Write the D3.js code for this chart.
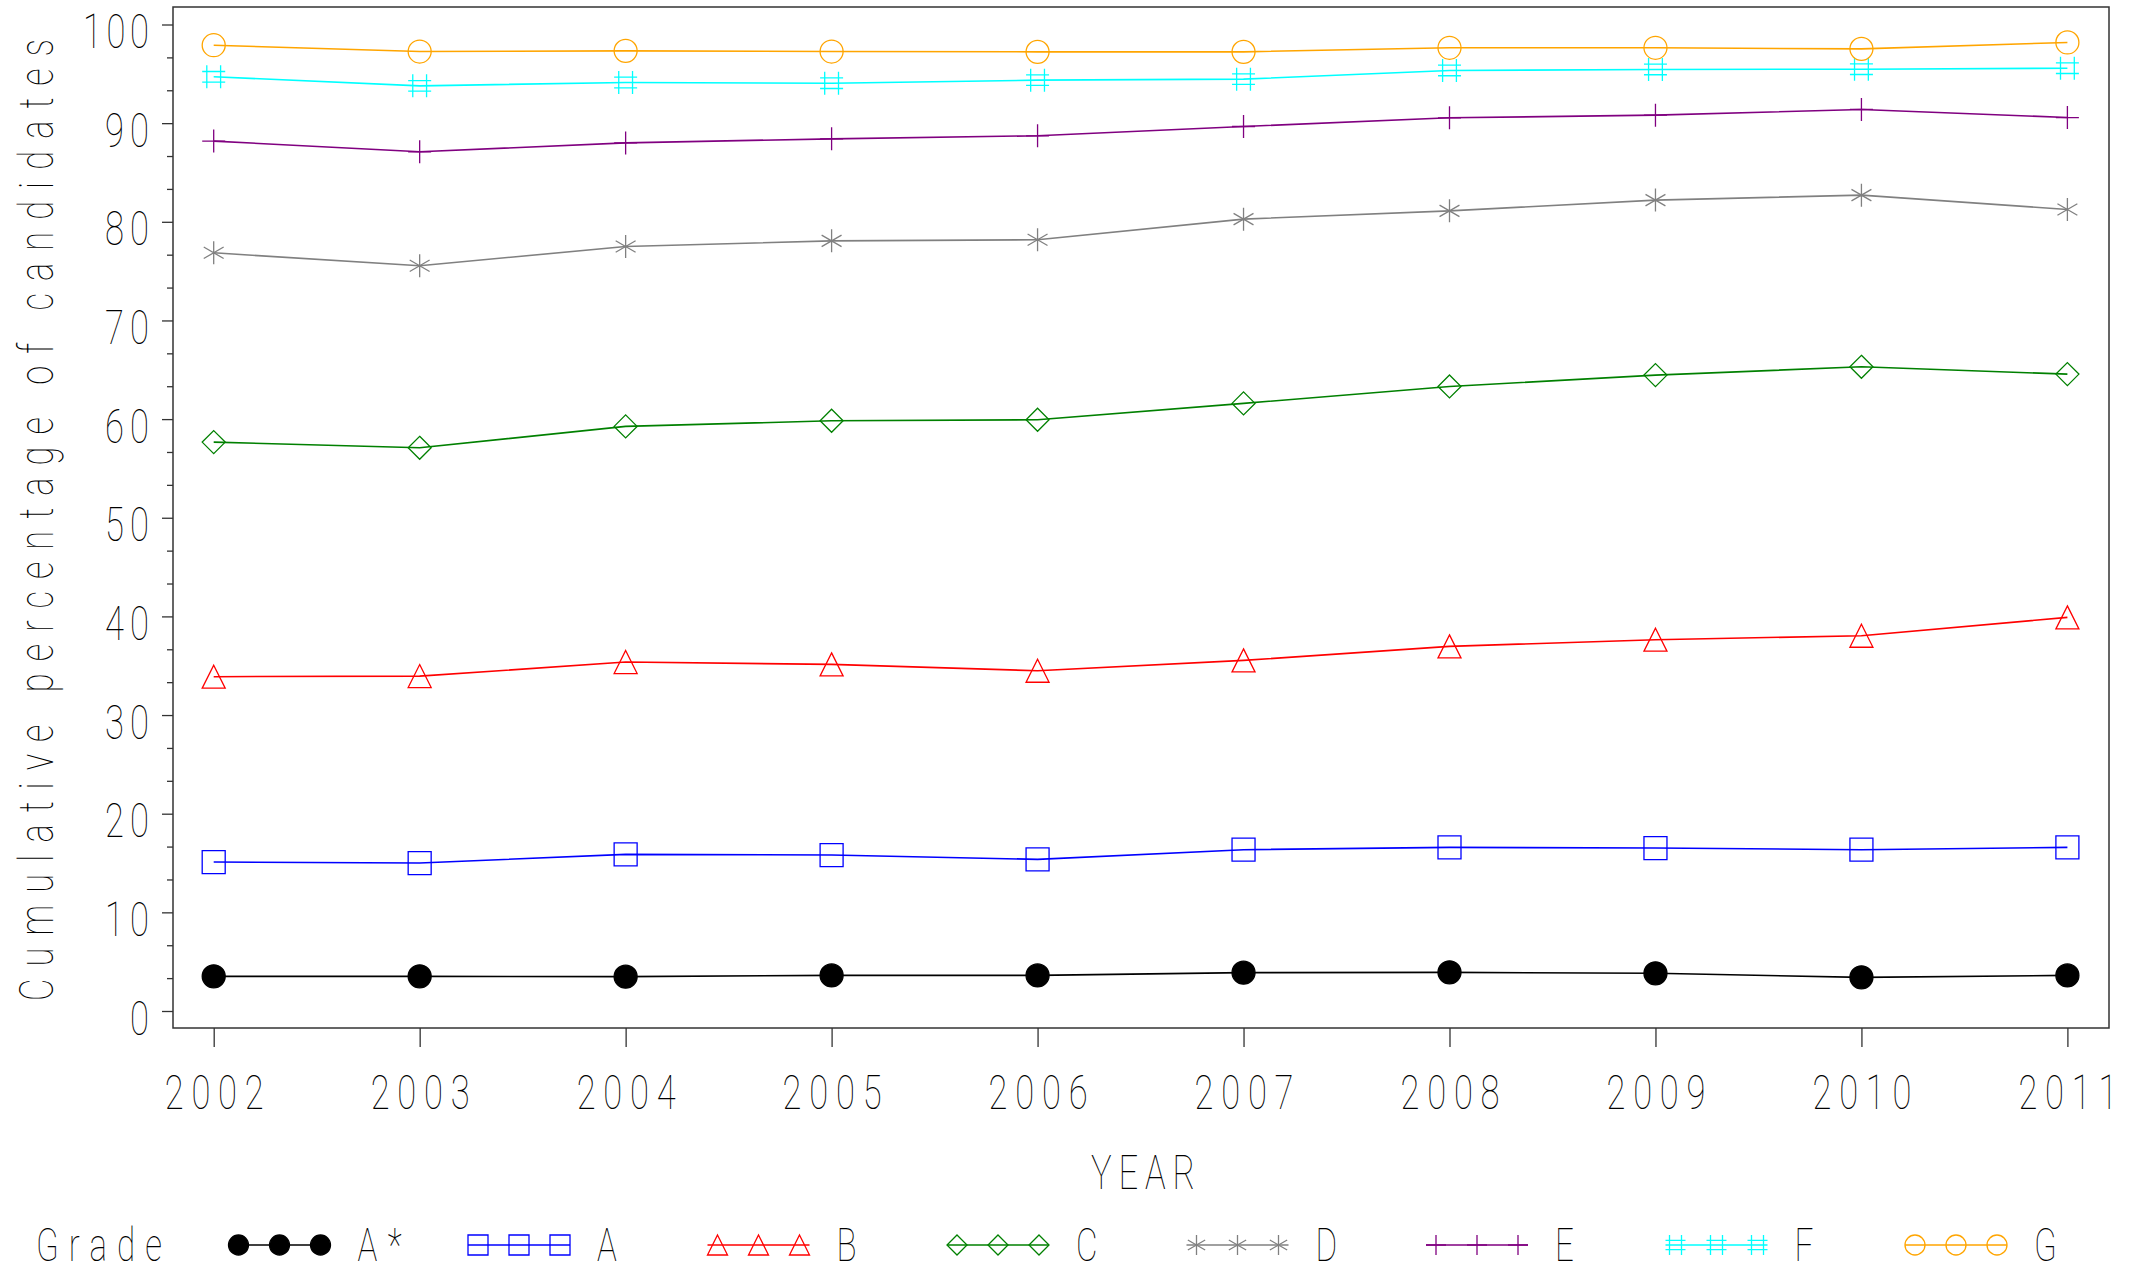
<!DOCTYPE html>
<html>
<head>
<meta charset="utf-8">
<script src="https://cdn.jsdelivr.net/npm/d3@7"></script>
<style>
  html, body { margin: 0; padding: 0; background: #fff; }
  svg { display: block; }
  text { font-family: "Roboto", "DejaVu Sans", sans-serif; font-weight: 100; fill: #000; }
</style>
</head>
<body>
<svg id="chart" width="2134" height="1274"></svg>
<script>
// ---------------- data ----------------
const years = [2002, 2003, 2004, 2005, 2006, 2007, 2008, 2009, 2010, 2011];
const gradeAStar = [3.51, 3.51, 3.48, 3.61, 3.61, 3.89, 3.92, 3.82, 3.41, 3.61];
const gradeA = [15.10, 15.00, 15.88, 15.81, 15.37, 16.35, 16.59, 16.52, 16.35, 16.59];
const gradeB = [33.89, 33.95, 35.37, 35.14, 34.49, 35.54, 36.96, 37.64, 38.04, 39.90];
const gradeC = [57.67, 57.09, 59.26, 59.83, 59.93, 61.59, 63.31, 64.46, 65.30, 64.56];
const gradeD = [76.86, 75.54, 77.50, 78.07, 78.18, 80.27, 81.11, 82.20, 82.70, 81.25];
const gradeE = [88.18, 87.10, 88.00, 88.41, 88.72, 89.66, 90.54, 90.81, 91.39, 90.57];
const gradeF = [94.70, 93.78, 94.12, 94.05, 94.36, 94.46, 95.34, 95.44, 95.47, 95.57];
const gradeG = [97.90, 97.26, 97.33, 97.26, 97.23, 97.23, 97.64, 97.64, 97.53, 98.18];
const gradeLabels = ["A*", "A", "B", "C", "D", "E", "F", "G"];
const yTickValues = [0, 10, 20, 30, 40, 50, 60, 70, 80, 90, 100];
const yAxisTitle = "Cumulative percentage of candidates";
const xAxisTitle = "YEAR";
const legendTitle = "Grade";

// ---------------- styles ----------------
const seriesValues = [gradeAStar, gradeA, gradeB, gradeC, gradeD, gradeE, gradeF, gradeG];
const seriesColors = ["#000000", "#0000ff", "#ff0000", "#008000", "#808080", "#800080", "#00ffff", "#ffa500"];
const seriesSymbols = ["dot", "square", "triangle", "diamond", "star", "plus", "hash", "circle"];

const SX = 0.72;          // horizontal squeeze of the glyphs
const FS = 48;            // font size (cap height ~34px)

const svg = d3.select("#chart");
const frame = { left: 173, right: 2109, top: 7, bottom: 1028 };

const x = d3.scaleLinear().domain([2002, 2011]).range([213.7, 2067.4]);
const y = d3.scaleLinear().domain([0, 100]).range([1011, 24.5]);

// ---------------- symbol types ----------------
const symbolTypes = {
  dot: { draw(c, r) { c.moveTo(r, 0); c.arc(0, 0, r, 0, 2 * Math.PI); } },
  circle: { draw(c, r) { c.moveTo(r, 0); c.arc(0, 0, r, 0, 2 * Math.PI); } },
  square: { draw(c, r) { c.rect(-r, -r, 2 * r, 2 * r); } },
  triangle: { draw(c, r) { c.moveTo(0, -r); c.lineTo(r, r); c.lineTo(-r, r); c.closePath(); } },
  diamond: { draw(c, r) { c.moveTo(0, -r); c.lineTo(r, 0); c.lineTo(0, r); c.lineTo(-r, 0); c.closePath(); } },
  star: { draw(c, r) {
    for (const a of [0, Math.PI / 3, 2 * Math.PI / 3]) {
      const dx = Math.sin(a) * r, dy = Math.cos(a) * r;
      c.moveTo(-dx, -dy); c.lineTo(dx, dy);
    }
  } },
  plus: { draw(c, r) { c.moveTo(0, -r); c.lineTo(0, r); c.moveTo(-r, 0); c.lineTo(r, 0); } },
  hash: { draw(c, r) {
    const vx = 0.6 * r, hy = 0.46 * r;
    c.moveTo(-vx, -r); c.lineTo(-vx, r);
    c.moveTo(vx, -r); c.lineTo(vx, r);
    c.moveTo(-r, -hy); c.lineTo(r, -hy);
    c.moveTo(-r, hy); c.lineTo(r, hy);
  } }
};

function drawSymbol(g, kind, color, cx, cy, r) {
  const p = g.append("path")
    .attr("d", d3.symbol().type(symbolTypes[kind]).size(r)())
    .attr("transform", `translate(${cx},${cy})`)
    .attr("stroke", color)
    .attr("stroke-width", 1.3);
  if (kind === "dot") p.attr("fill", color);
  else p.attr("fill", "none");
  return p;
}

function label(g, str, px, py, anchor, len, rotate, fs) {
  return g.append("text")
    .attr("transform", `translate(${px},${py})${rotate ? " rotate(-90)" : ""} scale(${SX},1)`)
    .attr("text-anchor", anchor)
    .attr("font-size", fs || FS)
    .attr("textLength", len / SX)
    .attr("lengthAdjust", "spacing")
    .text(str);
}

// ---------------- frame ----------------
svg.append("rect")
  .attr("x", frame.left).attr("y", frame.top)
  .attr("width", frame.right - frame.left).attr("height", frame.bottom - frame.top)
  .attr("fill", "none").attr("stroke", "#333").attr("stroke-width", 1.5);

// ---------------- y axis ----------------
const minorTicks = [];
yTickValues.slice(0, -1).forEach(v => { minorTicks.push(v + 10 / 3, v + 20 / 3); });

const yMinor = svg.append("g").attr("transform", `translate(${frame.left},0)`)
  .call(d3.axisLeft(y).tickValues(minorTicks).tickSize(6).tickFormat(""));
yMinor.select(".domain").remove();

const yAxis = svg.append("g").attr("transform", `translate(${frame.left},0)`)
  .call(d3.axisLeft(y).tickValues(yTickValues).tickSize(11).tickFormat(d3.format("d")));
yAxis.select(".domain").remove();
svg.selectAll(".tick line").attr("stroke", "#333").attr("stroke-width", 1.3);
yAxis.selectAll(".tick text")
  .attr("x", null).attr("dy", null)
  .attr("transform", `translate(-24,23) scale(${SX},1)`)
  .attr("text-anchor", "end")
  .attr("font-size", FS)
  .attr("font-family", null)
  .each(function (d) {
    const n = String(d).length;
    d3.select(this).attr("textLength", (22 * n) / SX).attr("lengthAdjust", "spacing");
  });

// ---------------- x axis ----------------
const xAxis = svg.append("g").attr("transform", `translate(0,${frame.bottom})`)
  .call(d3.axisBottom(x).tickValues(years).tickSize(19).tickSizeOuter(0).tickFormat(d3.format("d")));
xAxis.select(".domain").remove();
xAxis.selectAll(".tick line").attr("stroke", "#333").attr("stroke-width", 1.3);
xAxis.selectAll(".tick text")
  .attr("y", null).attr("dy", null)
  .attr("transform", `translate(0,81) scale(${SX},1)`)
  .attr("text-anchor", "middle")
  .attr("font-size", FS)
  .attr("textLength", 99 / SX)
  .attr("lengthAdjust", "spacing");

// ---------------- axis titles ----------------
label(svg, xAxisTitle, 1143, 1189, "middle", 104, false);
label(svg, yAxisTitle, 53, 520, "middle", 962, true);

// ---------------- series ----------------
const line = d3.line().x((d, i) => x(years[i])).y(d => y(d));
const plot = svg.append("g");
seriesValues.forEach((vals, si) => {
  plot.append("path")
    .attr("d", line(vals))
    .attr("fill", "none")
    .attr("stroke", seriesColors[si])
    .attr("stroke-width", 1.6);
});
seriesValues.forEach((vals, si) => {
  vals.forEach((v, i) => {
    drawSymbol(plot, seriesSymbols[si], seriesColors[si], x(years[i]), y(v), 11.5);
  });
});

// ---------------- legend ----------------
const legend = svg.append("g");
const legendBaseline = 1261, legendFS = 46;
label(legend, legendTitle, 36, legendBaseline, "start", 126, false, legendFS);
const legendStart = 238.5, legendPitch = 239.5, legendGap = 41, legendY = 1245;
gradeLabels.forEach((lab, i) => {
  const x0 = legendStart + i * legendPitch;
  legend.append("line")
    .attr("x1", x0 - 10).attr("x2", x0 + 2 * legendGap + 10)
    .attr("y1", legendY).attr("y2", legendY)
    .attr("stroke", seriesColors[i]).attr("stroke-width", 1.6);
  for (let k = 0; k < 3; k++) {
    drawSymbol(legend, seriesSymbols[i], seriesColors[i], x0 + k * legendGap, legendY, 10);
  }
  label(legend, lab, x0 + 119, legendBaseline, "start", lab.length * 22, false, legendFS);
});
</script>
</body>
</html>
